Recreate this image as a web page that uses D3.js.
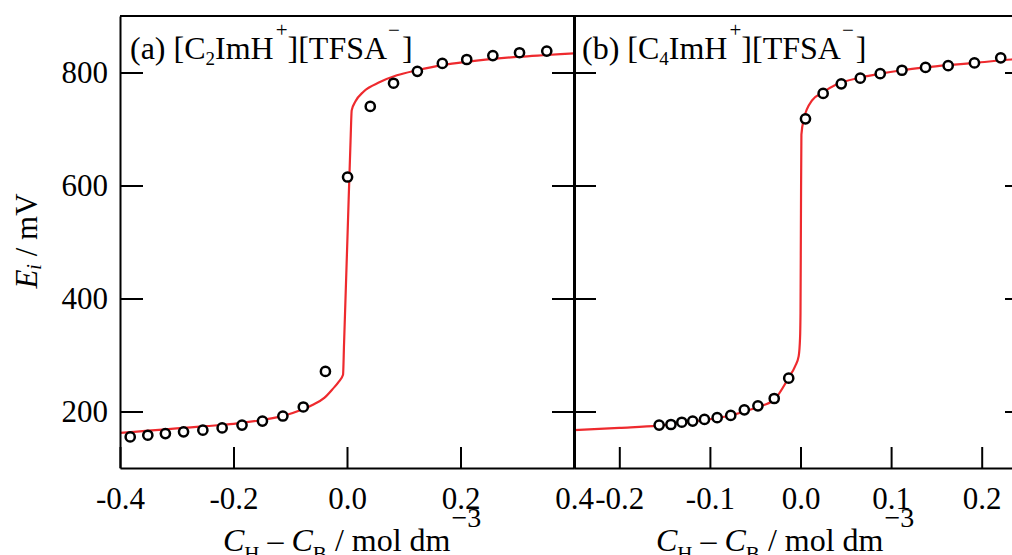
<!DOCTYPE html>
<html>
<head>
<meta charset="utf-8">
<script src="https://cdn.jsdelivr.net/npm/d3@7/dist/d3.min.js"></script>
<style>
  html, body { margin: 0; padding: 0; background: #fff; }
  svg { display: block; }
  text { font-family: "Liberation Serif", "Times New Roman", serif; fill: #000; }
</style>
</head>
<body>
<svg id="chart" width="1012" height="555"></svg>
<script>
// Measured potentials E_i (mV) against excess acid concentration C_H - C_B (mol dm^-3)

// (a) [C2ImH+][TFSA-]
const concA = [-0.382, -0.351, -0.320, -0.288, -0.254, -0.220, -0.185, -0.149, -0.113, -0.077,
               -0.038, 0.001, 0.041, 0.082, 0.124, 0.168, 0.211, 0.257, 0.304, 0.352];
const potA  = [155, 158, 161, 164, 167, 171, 176, 183, 192, 208,
               271, 615, 740, 781, 802, 816, 823, 830, 835, 838];

// fitted curve for (a)
const fitConcA = [-0.40, -0.35, -0.30, -0.25, -0.20, -0.15, -0.11, -0.08, -0.06, -0.04,
                  -0.025, -0.015, -0.007, -0.0052, 0.0012, 0.0063, 0.0083, 0.015, 0.029, 0.058,
                  0.088, 0.124, 0.168, 0.211, 0.257, 0.304, 0.352, 0.40];
const fitPotA  = [162, 166, 170, 174, 178, 185, 193, 203, 212, 224,
                  240, 252, 265, 320, 520, 680, 733, 749, 766, 783,
                  795, 804, 813, 819, 824, 828, 831, 834];

// (b) [C4ImH+][TFSA-]
const concB = [-0.156, -0.143, -0.131, -0.119, -0.106, -0.092, -0.077, -0.062, -0.047, -0.029,
               -0.013, 0.0055, 0.025, 0.045, 0.066, 0.088, 0.112, 0.138, 0.163, 0.192, 0.221];
const potB  = [176, 177, 181, 183, 186, 189, 193, 203, 210, 223,
               259, 718, 763, 780, 790, 798, 804, 809, 812, 817, 826];

// fitted curve for (b)
const fitConcB = [-0.25, -0.20, -0.157, -0.13, -0.106, -0.08, -0.062, -0.047, -0.029, -0.013,
                  -0.006, -0.002, -0.0005, 0.0, 0.0005, 0.001, 0.0037, 0.013, 0.024, 0.040,
                  0.066, 0.088, 0.112, 0.138, 0.163, 0.192, 0.233, 0.25];
const fitPotB  = [167, 171, 175, 180, 185, 192, 200, 208, 221, 260,
                  280, 298, 330, 374, 550, 690, 718, 751, 764, 779,
                  791, 798, 804, 809, 813, 817, 823, 825];

const yTicks  = [200, 400, 600, 800];
const xTicksA = [-0.4, -0.2, 0.0, 0.2, 0.4];
const xTicksB = [-0.2, -0.1, 0.0, 0.1, 0.2];

const svg = d3.select("#chart");
const FONT = 31;
const RED = "#ee2a2e";

const y  = d3.scaleLinear().domain([100, 900]).range([468, 16]);
const xA = d3.scaleLinear().domain([-0.4, 0.4]).range([120, 574]);
const xB = d3.scaleLinear().domain([-0.25, 0.25]).range([574, 1027]);

const fmt = d => d3.format(".1f")(d).replace("\u2212", "-");

// clip regions for the two panels
const defs = svg.append("defs");
defs.append("clipPath").attr("id", "clipA").append("rect")
  .attr("x", xA.range()[0]).attr("y", y.range()[1])
  .attr("width", xA.range()[1] - xA.range()[0]).attr("height", y.range()[0] - y.range()[1]);
defs.append("clipPath").attr("id", "clipB").append("rect")
  .attr("x", xB.range()[0]).attr("y", y.range()[1])
  .attr("width", xB.range()[1] - xB.range()[0]).attr("height", y.range()[0] - y.range()[1]);

function drawPanel(x, clipId, fitX, fitY, ptX, ptY) {
  const g = svg.append("g").attr("clip-path", `url(#${clipId})`);
  const line = d3.line()
    .x(d => x(d[0])).y(d => y(d[1]))
    .curve(d3.curveMonotoneX);
  g.append("path")
    .datum(d3.zip(fitX, fitY))
    .attr("d", line)
    .attr("fill", "none")
    .attr("stroke", RED)
    .attr("stroke-width", 2.2);
  g.selectAll("circle")
    .data(d3.zip(ptX, ptY))
    .join("circle")
    .attr("cx", d => x(d[0]))
    .attr("cy", d => y(d[1]))
    .attr("r", 4.6)
    .attr("fill", "#fff")
    .attr("stroke", "#000")
    .attr("stroke-width", 2.5);
}

drawPanel(xA, "clipA", fitConcA, fitPotA, concA, potA);
drawPanel(xB, "clipB", fitConcB, fitPotB, concB, potB);

function styleAxis(sel, width) {
  sel.selectAll("path.domain").attr("stroke", "#000").attr("stroke-width", width);
  sel.selectAll(".tick line").attr("stroke", "#000").attr("stroke-width", 2);
  sel.selectAll("text")
    .style("font-family", '"Liberation Serif", "Times New Roman", serif')
    .attr("font-size", FONT).attr("fill", "#000");
}

// bottom axes with inward ticks
const bottomA = svg.append("g").attr("transform", `translate(0,${y.range()[0]})`)
  .call(d3.axisBottom(xA).tickValues(xTicksA).tickFormat(fmt).tickSizeInner(-21).tickSizeOuter(0).tickPadding(19));
styleAxis(bottomA, 2);
const bottomB = svg.append("g").attr("transform", `translate(0,${y.range()[0]})`)
  .call(d3.axisBottom(xB).tickValues(xTicksB).tickFormat(fmt).tickSizeInner(-21).tickSizeOuter(0).tickPadding(19));
styleAxis(bottomB, 2);

// left axis
const leftA = svg.append("g").attr("transform", `translate(${xA.range()[0]},0)`)
  .call(d3.axisLeft(y).tickValues(yTicks).tickSizeInner(-23).tickSizeOuter(0).tickPadding(12));
styleAxis(leftA, 2);

// shared divider between panels, ticks on both sides
const divL = svg.append("g").attr("transform", `translate(${xA.range()[1]},0)`)
  .call(d3.axisLeft(y).tickValues(yTicks).tickFormat("").tickSizeInner(22).tickSizeOuter(0));
styleAxis(divL, 3);
const divR = svg.append("g").attr("transform", `translate(${xA.range()[1]},0)`)
  .call(d3.axisRight(y).tickValues(yTicks).tickFormat("").tickSizeInner(22).tickSizeOuter(0));
styleAxis(divR, 3);

// right border of panel (b)
const rightB = svg.append("g").attr("transform", `translate(${xB.range()[1]},0)`)
  .call(d3.axisRight(y).tickValues(yTicks).tickFormat("").tickSizeInner(-22).tickSizeOuter(0));
styleAxis(rightB, 2);

// top border
svg.append("line")
  .attr("x1", xA.range()[0]).attr("x2", xB.range()[1])
  .attr("y1", y.range()[1]).attr("y2", y.range()[1])
  .attr("stroke", "#000").attr("stroke-width", 2);

// panel titles
function title(xPos, label, n) {
  const t = svg.append("text").attr("x", xPos).attr("y", 59).attr("font-size", 32);
  t.append("tspan").text(`(${label}) [C`);
  t.append("tspan").attr("font-size", 19).attr("dy", 6).text(n);
  t.append("tspan").attr("dy", -6).text("ImH");
  t.append("tspan").attr("font-size", 21).attr("dx", 2).attr("dy", -22).text("+");
  t.append("tspan").attr("dy", 22).text("][TFSA");
  t.append("tspan").attr("font-size", 21).attr("dx", 1).attr("dy", -22).text("\u2212");
  t.append("tspan").attr("dx", 2).attr("dy", 22).text("]");
}
title(130, "a", "2");
title(582, "b", "4");

// x-axis titles
function xTitle(xPos) {
  const t = svg.append("text").attr("x", xPos).attr("y", 551).attr("font-size", 32);
  t.append("tspan").attr("font-style", "italic").text("C");
  t.append("tspan").attr("font-size", 21).attr("dy", 10).text("H");
  t.append("tspan").attr("dy", -10).text(" \u2013 ");
  t.append("tspan").attr("font-style", "italic").text("C");
  t.append("tspan").attr("font-size", 21).attr("dy", 10).text("B");
  t.append("tspan").attr("dy", -10).text(" / mol dm");
  t.append("tspan").attr("font-size", 28).attr("dx", 1).attr("dy", -24).text("\u22123");
}
xTitle(223);
xTitle(656);

// y-axis title
const yt = svg.append("text")
  .attr("transform", "translate(37,241) rotate(-90)")
  .attr("text-anchor", "middle")
  .attr("font-size", FONT);
yt.append("tspan").attr("font-style", "italic").text("E");
yt.append("tspan").attr("font-style", "italic").attr("font-size", 20).attr("dy", 4).text("i");
yt.append("tspan").attr("dy", -4).text(" / mV");
</script>
</body>
</html>
